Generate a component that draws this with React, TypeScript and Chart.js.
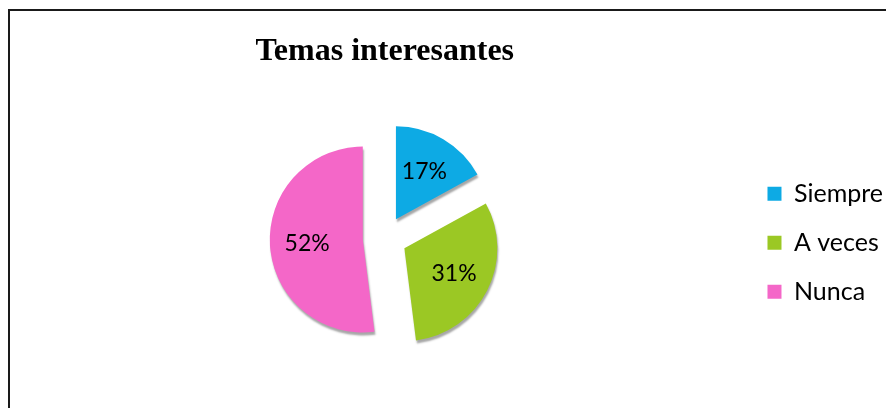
import React, { useEffect, useRef } from "react";
import { Chart, registerables } from "chart.js";

Chart.register(...registerables);

const categories = ["Siempre", "A veces", "Nunca"];
const values = [17, 31, 52];
const valueLabels = ["17%", "31%", "52%"];
const colors = ["#0DAAE4", "#9BC824", "#F467C8"];
const titleText = "Temas interesantes";

const EXPLODE = 22;
const PIE_RADIUS = 93;

export default function App() {
  const ref = useRef<HTMLCanvasElement>(null);

  useEffect(() => {
    document.documentElement.style.overflow = "hidden";
    document.body.style.overflow = "hidden";
    if (!ref.current) return;

    const explodePlugin = {
      id: "explodeSlices",
      beforeDatasetDraw(chart: any, args: any) {
        const ctx = chart.ctx;
        const meta = args.meta;
        meta.data.forEach((arc: any) => {
          const p = arc.getProps(["startAngle", "endAngle"], true);
          const mid = (p.startAngle + p.endAngle) / 2;
          ctx.save();
          ctx.shadowColor = "rgba(0,0,0,0.35)";
          ctx.shadowOffsetX = 1;
          ctx.shadowOffsetY = 3;
          ctx.shadowBlur = 2;
          ctx.translate(Math.cos(mid) * EXPLODE, Math.sin(mid) * EXPLODE);
          arc.draw(ctx);
          ctx.restore();
        });
        return false;
      },
      afterDatasetsDraw(chart: any) {
        const ctx = chart.ctx;
        const meta = chart.getDatasetMeta(0);
        ctx.save();
        ctx.font = "23px Lato";
        ctx.fillStyle = "#000";
        ctx.textAlign = "center";
        ctx.textBaseline = "middle";
        meta.data.forEach((arc: any, i: number) => {
          const p = arc.getProps(["x", "y", "startAngle", "endAngle", "outerRadius"], true);
          const mid = (p.startAngle + p.endAngle) / 2;
          const d = EXPLODE + p.outerRadius * 0.6;
          ctx.fillText(valueLabels[i], p.x + Math.cos(mid) * d, p.y + Math.sin(mid) * d);
        });
        ctx.restore();
      },
    };

    const chart = new Chart(ref.current, {
      type: "pie",
      data: {
        labels: categories,
        datasets: [
          {
            data: values,
            backgroundColor: colors,
            borderWidth: 0,
          },
        ],
      },
      options: {
        responsive: false,
        animation: false,
        radius: PIE_RADIUS,
        layout: { padding: { left: 16, right: 1, top: 0, bottom: 13 } },
        plugins: {
          title: {
            display: true,
            text: titleText,
            fullSize: false,
            color: "#000",
            font: { family: "'Times New Roman', 'Liberation Serif', serif", size: 32, weight: "bold" },
            padding: { top: 22, bottom: 10 },
          },
          legend: {
            display: true,
            position: "right",
            fullSize: false,
            title: { display: true, text: "", font: { size: 1 }, padding: 4 },
            labels: {
              boxWidth: 14,
              boxHeight: 14,
              padding: 24,
              color: "#000",
              font: { family: "Lato", size: 25 },
            },
          },
          tooltip: { enabled: false },
        },
      } as any,
      plugins: [explodePlugin as any],
    });
    return () => chart.destroy();
  }, []);

  return (
    <div
      style={{
        marginTop: 1,
        borderTop: "2px solid #1a1a1a",
        borderLeft: "2px solid #1a1a1a",
        width: 884,
        height: 397,
        background: "#fff",
      }}
    >
      <canvas ref={ref} width={884} height={397} style={{ display: "block" }} />
    </div>
  );
}
